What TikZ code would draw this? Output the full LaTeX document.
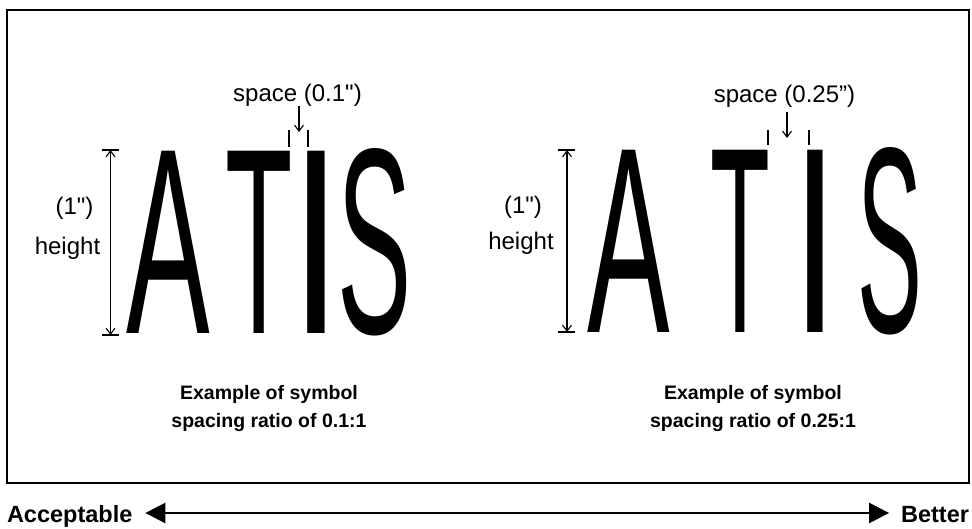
\documentclass[tikz,border=0pt]{standalone}
\usepackage{fontspec}
\setmainfont{Liberation Sans}[Ligatures=TeXOff]
\usetikzlibrary{arrows.meta}
\begin{document}
\begin{tikzpicture}[x=1pt,y=-1pt,
  lbl/.style={font=\fontsize{24}{26}\selectfont, inner sep=0pt, outer sep=0pt, anchor=base},
  capt/.style={font=\bfseries\fontsize{19.5}{28}\selectfont, inner sep=0pt, outer sep=0pt, align=center, anchor=center},
  endlbl/.style={font=\bfseries\fontsize{23.5}{26}\selectfont, inner sep=0pt, outer sep=0pt},
  glyph/.style={font=\fontsize{265}{265}\selectfont, inner sep=0pt, outer sep=0pt, anchor=base west},
  dimline/.style={line width=1.1pt, {Straight Barb[length=6pt,width=9pt]}-{Straight Barb[length=6pt,width=9pt]}},
  pointer/.style={line width=1.1pt, -{Straight Barb[length=6pt,width=9pt]}},
  tickline/.style={line width=1.1pt},
  framebox/.style={line width=2.5pt},
  scalearrow/.style={line width=2.6pt, {Triangle[length=20pt,width=20pt]}-{Triangle[length=20pt,width=20pt]}}]
\useasboundingbox (0,0) rectangle (972,529);
\draw[framebox] (7,10) rectangle (969,483);

% ---------- left example ----------
\node[glyph, xscale=0.473] (lA) at (126.2,334) {A};
\node[glyph, xscale=0.416] (lT) at (225.3,334) {T};
\node[glyph, xscale=0.703] (lI) at (290.6,334) {I};
\node[glyph, xscale=0.420] (lS) at (337,334) {S};

\coordinate (lht) at (110.5,150); \coordinate (lhb) at (110.5,335);
\coordinate (lhtl) at (102,150); \coordinate (lhtr) at (119,150);
\coordinate (lhbl) at (102,335); \coordinate (lhbr) at (119,335);
\draw[tickline] (lhtl) -- (lhtr);
\draw[tickline] (lhbl) -- (lhbr);
\draw[dimline] (lht) -- (lhb);
\node[lbl] (l1in) at (74.5,215) {(1")};
\node[lbl] (lheight) at (67.5,255) {height};

\coordinate (lt1a) at (289,130); \coordinate (lt1b) at (289,147);
\coordinate (lt2a) at (308,130); \coordinate (lt2b) at (308,147);
\draw[tickline] (lt1a) -- (lt1b);
\draw[tickline] (lt2a) -- (lt2b);
\node[lbl] (lspace) at (297.5,102) {space (0.1")};
\coordinate (lpa) at (299,106); \coordinate (lpb) at (299,132);
\draw[pointer] (lpa) -- (lpb);

\node[capt] (lcap) at (269,409) {Example of symbol\\spacing ratio of 0.1:1};

% ---------- right example ----------
\node[glyph, xscale=0.467] (rA) at (587,333) {A};
\node[glyph, xscale=0.369] (rT) at (710.6,333) {T};
\node[glyph, xscale=0.621] (rI) at (792.6,333) {I};
\node[glyph, xscale=0.367] (rS) at (857.6,333) {S};

\coordinate (rht) at (567,150); \coordinate (rhb) at (567,332);
\coordinate (rhtl) at (558,150); \coordinate (rhtr) at (575,150);
\coordinate (rhbl) at (558,332); \coordinate (rhbr) at (575,332);
\draw[tickline] (rhtl) -- (rhtr);
\draw[tickline] (rhbl) -- (rhbr);
\draw[dimline] (rht) -- (rhb);
\node[lbl] (r1in) at (523,214) {(1")};
\node[lbl] (rheight) at (521,250) {height};

\coordinate (rt1a) at (768,130); \coordinate (rt1b) at (768,145);
\coordinate (rt2a) at (809,130); \coordinate (rt2b) at (809,145);
\draw[tickline] (rt1a) -- (rt1b);
\draw[tickline] (rt2a) -- (rt2b);
\node[lbl] (rspace) at (784.5,103) {space (0.25”)};
\coordinate (rpa) at (787,112); \coordinate (rpb) at (787,138);
\draw[pointer] (rpa) -- (rpb);

\node[capt] (rcap) at (753,409) {Example of symbol\\spacing ratio of 0.25:1};

% ---------- scale ----------
\node[endlbl, anchor=base west] (acc) at (7,522) {Acceptable};
\node[endlbl, anchor=base east] (bet) at (969,522) {Better};
\draw[scalearrow] ([xshift=13pt,yshift=9pt]acc.base east) -- ([xshift=-12pt,yshift=9pt]bet.base west);
\end{tikzpicture}
\end{document}
